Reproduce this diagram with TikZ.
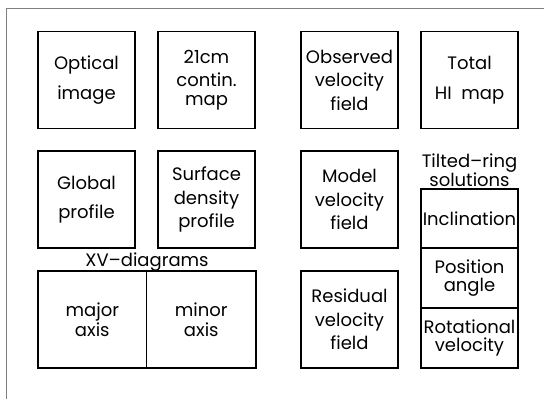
\documentclass[tikz,border=0pt]{standalone}
\usepackage{fontspec}
\setmainfont{Poppins}
\usetikzlibrary{positioning}

\tikzset{
  panel/.style={draw, line width=1.5pt, minimum width=97pt, minimum height=97pt,
    align=center, inner sep=0pt, font=\fontsize{18}{23.5}\selectfont},
  ringbox/.style={panel, minimum height=60pt},
  caption/.style={align=center, inner sep=0pt, font=\fontsize{18}{19}\selectfont}
}

\begin{document}
\begin{tikzpicture}[x=1pt, y=-1pt]
\useasboundingbox (0,0) rectangle (544,399);
% outer frame, only top and left edge in view
\draw[gray, line width=1pt] (560,8) -- (6,8) -- (6,410);

% left block
\node[panel] (optical) at (86.5,80) {Optical\\[6pt]image};
\node[panel] (contin) at (206.5,80) {21cm\\contin.\\[-5pt]map};
\node[panel] (global) at (86.5,199.5) {Global\\[6pt]profile};
\node[panel] (surface) at (206.5,199.5) {Surface\\density\\profile};
\node[panel, minimum width=108.7pt] (major) at (92.3,319.5) {major\\[-3pt]axis};
\node[panel, minimum width=109.3pt] (minor) at (201.3,319.5) {minor\\[-3pt]axis};
\node[caption] (xv) at (147,262) {XV--diagrams};

% right block
\node[panel] (observed) at (349.5,80) {Observed\\velocity\\field};
\node[panel] (total) at (469.5,80) {Total\\[6pt]HI~~map};
\node[panel] (model) at (349.5,199.5) {Model\\velocity\\field};
\node[panel] (residual) at (349.5,319.5) {Residual\\velocity\\field};
\node[ringbox, minimum height=59pt] (incl) at (469.5,218.5) {Inclination};
\node[ringbox, below=-1.5pt of incl] (pa) {Position\\[-5pt]angle};
\node[ringbox, below=-1.5pt of pa] (vrot) {Rotational\\[-5pt]velocity};
\node[caption] (tilted) at (469.5,170) {Tilted--ring\\solutions};
\end{tikzpicture}
\end{document}
